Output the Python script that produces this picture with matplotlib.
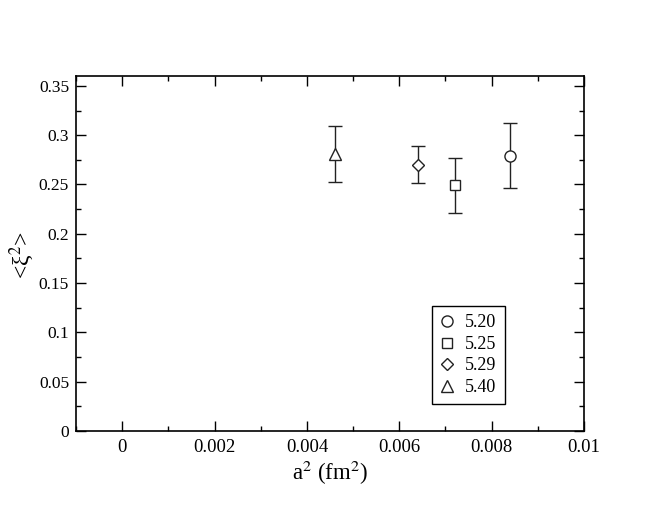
import matplotlib
matplotlib.use('Agg')
import matplotlib.pyplot as plt
from matplotlib.ticker import MultipleLocator

# data
betas = ['5.20', '5.25', '5.29', '5.40']
markers = ['o', 's', 'D', '^']
a2 = [0.0084, 0.0072, 0.0064, 0.0046]
xi2 = [0.279, 0.249, 0.270, 0.281]
err = [0.033, 0.028, 0.019, 0.028]

plt.rcParams['font.family'] = ['Liberation Serif', 'DejaVu Serif']
plt.rcParams['mathtext.fontset'] = 'stix'

fig = plt.figure(figsize=(6.58, 5.09), dpi=100)
ax = fig.add_axes([76/658, 1 - 431/509, 508/658, 355/509])

sizes = {'o': 8, 's': 7, 'D': 6, '^': 8}
for x, y, e, m, b in zip(a2, xi2, err, markers, betas):
    ax.errorbar(x, y, yerr=e, fmt='none', ecolor='#222222', elinewidth=1,
                capsize=5, capthick=1)
    ax.plot(x, y, linestyle='none', marker=m, markersize=sizes[m],
            markerfacecolor='white', markeredgecolor='#222222',
            markeredgewidth=1, label=b)

ax.set_xlim(-0.001, 0.01)
ax.set_ylim(0, 0.36)
ax.xaxis.set_minor_locator(MultipleLocator(0.001))
ax.yaxis.set_minor_locator(MultipleLocator(0.025))
ax.set_xticks([0, 0.002, 0.004, 0.006, 0.008, 0.01])
ax.set_xticklabels(['0', '0.002', '0.004', '0.006', '0.008', '0.01'])
ax.set_yticks([0, 0.05, 0.1, 0.15, 0.2, 0.25, 0.3, 0.35])
ax.set_yticklabels(['0', '0.05', '0.1', '0.15', '0.2', '0.25', '0.3', '0.35'])
ax.tick_params(which='both', direction='in', top=True, right=True, width=1)
ax.tick_params(axis='x', labelsize=13.5, pad=6)
ax.tick_params(axis='y', labelsize=12.5, pad=5)
ax.tick_params(which='major', length=7)
ax.tick_params(which='minor', length=3.5)
for s in ax.spines.values():
    s.set_linewidth(1.2)

ax.set_xlabel('a$^2$ (fm$^2$)', fontsize=16.5, labelpad=2)
ax.set_ylabel('<ξ$^2$>', fontsize=17)
ax.yaxis.set_label_coords(-0.079, 0.495)

leg = ax.legend(loc='lower left', bbox_to_anchor=(0.70, 0.076),
                borderaxespad=0, fancybox=False, edgecolor='black',
                fontsize=13, handlelength=0.8, handletextpad=0.6,
                labelspacing=0.25, borderpad=0.45, framealpha=1)
leg.get_frame().set_linewidth(1)

plt.savefig('out.png')
